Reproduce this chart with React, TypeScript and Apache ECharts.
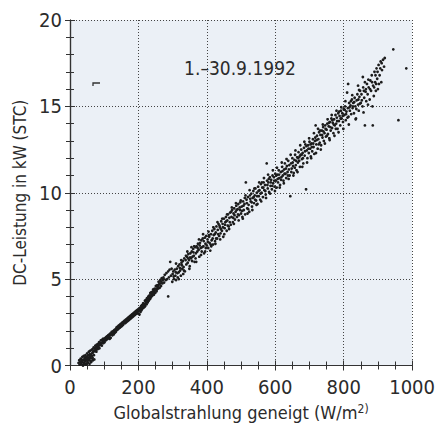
import React, { useEffect, useRef } from "react";
import * as echarts from "echarts";

const xTicks = [0, 200, 400, 600, 800, 1000];
const yTicks = [0, 5, 10, 15, 20];
const periodLabel = "1.–30.9.1992";
const xName = "Globalstrahlung geneigt (W/m";
const yName = "DC-Leistung in kW (STC)";

const pointsLow: number[][] = [
  [25,0.15],[27,0.3],[28,0.05],[30,0.2],[31,0.4],[32,0.1],[34,0.35],[35,0.2],[36,0.5],[37,0.05],[39,0.3],[40,0.55],[41,0.15],[43,0.45],[44,0.3],[45,0.6],[46,0.1],[48,0.5],[49,0.35],[50,0.7],[51,0.2],[53,0.6],[54,0.45],[55,0.8],[56,0.3],[58,0.65],[59,0.85],[60,0.5],[61,0.25],[63,0.9],[64,0.7],[65,0.4],[66,0.95],[68,0.8],[69,1.05],[70,0.6],[72,1.0],[73,0.85],[74,1.15],[76,1.05],[77,0.8],[78,1.2],[80,1.1],[81,0.95],[82,1.25],[84,1.15],[85,1.35],[86,1.0],[88,1.3],[89,1.2],[90,1.45],[92,1.3],[93,1.15],[94,1.5],[96,1.4],[97,1.55],[98,1.3],[100,1.5],[101,1.35],[103,1.6],[104,1.45],[106,1.65],[107,1.5],[109,1.7],[110,1.55],[112,1.75],[113,1.6],[115,1.8],[116,1.55],
  [38,0.0],[42,0.1],[47,0.05],[52,0.15],[57,0.1],[62,0.2],[67,0.3],[44,0.25],[50,0.3],[58,0.4],[66,0.45],[71,0.35]
];

const pointsMid: number[][] = [
  [118,1.85],[119,1.6],[121,1.8],[122,1.95],[124,1.75],[125,1.9],[127,2.0],[128,1.8],[130,2.05],[131,1.9],[133,2.1],[134,1.95],[136,2.2],[137,2.05],[139,2.25],[140,2.1],[142,2.3],[143,2.15],[145,2.35],[146,2.2],[148,2.4],[149,2.25],[151,2.45],[152,2.3],[154,2.5],[155,2.35],[157,2.55],[158,2.45],[160,2.6],[161,2.45],[163,2.65],[164,2.5],[166,2.7],[167,2.55],[169,2.75],[170,2.6],[172,2.8],[173,2.65],[175,2.85],[176,2.7],[178,2.9],[179,2.75],[181,2.95],[182,2.8],[184,3.0],[185,2.85],[187,3.05],[188,2.9],[190,3.1],[191,2.95],[193,3.15],[194,3.0],[196,3.2],[197,3.05],[199,3.25],[200,3.0],
  [202,3.3],[203,2.95],[205,3.35],[206,3.1],[208,3.45],[209,3.2],[211,3.5],[212,3.3],[214,3.6],[215,3.35],[217,3.55],[219,3.75],[220,3.45],[222,3.8],[224,3.55],[225,3.9],[227,3.65],[229,4.0],[230,3.75],[232,4.05],[234,3.85],[236,4.2],[237,3.95],[239,4.25],[241,4.05],[243,4.4],[245,4.1],[247,4.45],[249,4.2],[251,4.6],[253,4.3],[255,4.65],[257,4.45],[259,4.85],[262,4.5],[264,4.95],[266,4.6],[268,5.05],[270,4.75],[273,5.1],[275,4.8],[277,5.25],[280,4.95],[282,5.35],[284,5.0],[287,5.45],[289,5.1],[291,5.55],[293,6.0],[295,5.2],[297,5.6],[299,4.85],[300,5.3],[235,4.2],[244,4.3],[254,4.4],[287,4.0]
];

const pointsUpperMid: number[][] = [
  [302,5.45],[304,5.0],[306,5.55],[308,5.2],[310,4.95],[312,5.6],[314,5.35],[316,5.75],[318,5.4],[320,5.85],[322,5.5],[324,5.2],[326,5.95],[328,5.6],[330,6.05],[332,5.7],[334,6.2],[336,5.45],[338,6.1],[340,5.85],[342,6.3],[344,5.95],[346,6.45],[348,6.1],[350,5.75],[352,6.5],[354,6.2],[356,6.6],[358,6.3],[360,6.75],[362,6.35],[364,6.0],[366,6.85],[368,6.5],[370,6.9],[372,6.6],[374,7.05],[376,6.7],[378,6.3],[380,7.1],[382,6.8],[384,7.25],[386,6.85],[388,7.35],[390,6.9],[392,6.5],[394,7.4],[396,7.05],[398,7.5],[400,6.95],
  [402,7.3],[404,6.8],[406,7.55],[408,7.1],[410,6.65],[412,7.6],[414,7.25],[416,7.8],[418,7.0],[420,7.55],[422,7.9],[424,7.2],[426,7.7],[428,8.05],[430,7.35],[432,7.85],[434,8.2],[436,7.5],[438,8.0],[440,7.65],[442,8.35],[444,7.8],[446,8.2],[448,7.45],[450,8.5],[452,7.95],[454,8.3],[456,8.6],[458,7.8],[460,8.4],[462,8.75],[464,8.05],[466,8.55],[468,8.85],[470,8.15],[472,8.6],[474,9.0],[476,8.3],[478,8.8],[480,9.1],[482,8.45],[484,8.9],[486,9.25],[488,8.6],[490,9.05],[492,9.35],[494,8.7],[496,9.15],[498,9.45],[500,8.8]
];

const pointsHigh: number[][] = [
  [502,9.2],[504,8.6],[506,9.5],[508,9.0],[510,9.35],[512,8.75],[514,10.6],[516,9.6],[518,9.1],[520,9.75],[522,9.3],[524,8.9],[526,9.85],[528,9.5],[530,9.95],[532,9.2],[534,9.7],[536,10.1],[538,9.4],[540,9.85],[542,10.25],[544,9.55],[546,10.0],[548,9.35],[550,10.35],[552,9.8],[554,10.15],[556,9.6],[558,10.5],[560,10.0],[562,10.3],[564,9.75],[566,10.6],[568,10.15],[570,10.45],[572,9.9],[575,11.7],[576,10.7],[578,10.25],[580,10.6],[582,10.05],[584,10.9],[586,10.4],[588,10.75],[590,10.2],[592,11.0],[594,10.55],[596,10.9],[598,10.35],[600,11.1],
  [602,10.7],[604,10.3],[606,11.05],[608,10.6],[610,11.3],[612,10.85],[614,10.45],[616,11.2],[618,10.9],[620,11.5],[622,11.0],[624,10.7],[626,11.35],[628,11.7],[630,11.1],[632,10.85],[634,11.55],[636,11.2],[638,11.85],[640,11.35],[642,11.0],[644,9.8],[646,11.7],[648,11.4],[650,12.0],[652,11.55],[654,11.15],[656,11.9],[658,12.2],[660,11.6],[662,11.3],[664,12.05],[666,11.75],[668,12.35],[670,11.85],[672,11.5],[674,12.2],[676,12.5],[678,11.95],[680,12.3],[682,11.7],[684,12.6],[686,12.15],[688,12.8],[690,10.2],[692,12.45],[694,12.0],[696,12.75],[698,12.3],[700,12.95]
];

const pointsTop: number[][] = [
  [702,12.55],[704,12.1],[706,12.85],[708,12.4],[710,13.1],[712,12.65],[714,12.25],[716,13.0],[718,13.9],[720,12.8],[722,13.3],[724,12.55],[726,13.1],[728,13.5],[730,12.9],[732,13.35],[734,12.75],[736,13.6],[738,13.2],[740,13.8],[742,13.0],[744,13.45],[746,13.9],[748,13.25],[750,13.65],[752,14.0],[754,13.4],[756,13.85],[758,13.15],[760,14.1],[762,13.6],[764,14.3],[766,13.75],[768,14.05],[770,13.45],[772,14.25],[774,13.9],[776,14.5],[778,14.0],[780,14.35],[782,13.7],[784,14.6],[786,14.15],[788,14.45],[790,13.9],[792,14.75],[794,14.3],[796,14.6],[798,14.1],[800,14.85],
  [802,14.5],[804,15.0],[806,14.2],[808,14.7],[810,15.8],[812,14.9],[814,14.4],[816,15.2],[818,14.75],[820,15.05],[822,14.55],[824,15.4],[826,14.9],[828,15.2],[830,14.6],[832,15.5],[834,15.0],[836,14.3],[838,15.35],[840,15.7],[842,15.1],[844,14.75],[846,15.55],[848,15.9],[850,15.2],[852,15.7],[855,15.0],[857,16.1],[860,15.5],[862,13.9],[864,15.85],[866,15.3],[868,16.3],[870,15.7],[873,16.1],[876,15.4],[878,16.5],[880,15.9],[882,16.8],[885,13.9],[886,16.2],[888,15.6],[890,17.0],[892,16.4],[894,15.9],[896,17.2],[898,16.6],[900,16.0],[902,17.4],[905,16.8],[908,17.6],[910,16.4],[912,17.1],[915,17.7],[918,17.3],[920,17.8],[945,18.3],[960,14.2],[983,17.2],[813,16.3],[842,16.2],[862,16.4],[856,16.7]
];

const pointsExtraLow: number[][] = [
  [33,0.25],[36,0.3],[41,0.35],[45,0.4],[49,0.5],[53,0.4],[57,0.55],[61,0.6],[64,0.55],[67,0.75],[71,0.85],[75,0.9],[79,0.95],[83,1.05],[87,1.2],[91,1.3],[95,1.3],[99,1.4],[102,1.5],[105,1.55],[108,1.6],[111,1.7],[114,1.7],[117,1.75],[120,1.85],[123,1.85],[126,1.95],[129,2.0],[132,2.0],[135,2.1],[138,2.15],[141,2.2],[144,2.25],[147,2.3],[150,2.35],[153,2.4],[156,2.5],[159,2.5],[162,2.55],[165,2.6],[168,2.65],[171,2.7],[174,2.75],[177,2.8],[180,2.85],[183,2.9],[186,2.95],[189,3.0],[192,3.05],[195,3.1],[198,3.15],[201,3.2],[204,3.2],[207,3.3],[210,3.35],[213,3.45],[216,3.5],[218,3.4],[221,3.6],[223,3.7],[226,3.75],[228,3.8],[231,3.9],[233,3.95],[235,4.0],[238,4.1],[240,4.15],[242,4.2],[246,4.3],[248,4.35],[252,4.45],[256,4.55],[258,4.6],[261,4.7],[263,4.75],[267,4.85],[271,4.95],[274,5.0]
];

const pointsExtraHigh: number[][] = [
  [303,5.15],[309,5.4],[315,5.1],[321,5.65],[327,5.8],[333,5.5],[339,6.35],[345,6.2],[351,6.25],[357,6.05],[361,6.55],[367,6.2],[373,6.8],[379,6.95],[385,6.6],[391,7.2],[397,6.8],[403,7.15],[407,7.45],[411,7.0],[417,7.35],[423,7.6],[427,7.35],[433,7.6],[437,8.1],[441,7.9],[447,8.0],[453,8.15],[457,8.35],[461,8.1],[467,8.3],[471,8.9],[477,8.55],[481,8.7],[487,9.0],[491,8.75],[497,9.0],[503,8.95],[507,9.25],[511,9.7],[517,9.4],[521,9.05],[527,9.65],[531,9.45],[537,9.75],[541,9.6],[547,9.8],[551,10.1],[557,9.95],[561,10.6],[565,10.3],[571,10.1],[577,10.45],[581,10.8],[587,10.6],[591,10.4],[597,10.7],[603,11.0],[607,10.8],[611,11.05],[617,10.75],[621,11.25],[627,11.1],[631,11.4],[637,11.0],[641,11.6],[647,11.2],[651,11.75],[657,11.45],[661,11.85],[667,12.0],[671,12.1],[677,12.2],[681,12.0],[687,12.4],[691,12.7],[697,12.55],[703,12.8],[707,12.65],[711,12.85],[717,13.2],[721,13.05],[727,12.8],[731,13.6],[737,13.35],[741,13.55],[747,13.7],[751,13.3],[757,14.05],[761,13.8],[767,14.2],[771,13.95],[777,13.7],[781,14.15],[787,14.7],[791,14.3],[797,14.45],[803,14.8],[807,14.55],[811,14.35],[817,14.95],[821,15.3],[827,15.0],[831,15.25],[837,14.85],[843,15.4],[847,15.15],[853,15.35],[859,15.9],[865,16.0],[871,15.1],[877,16.0],[883,16.4],[889,16.1],[893,16.8],[899,17.0],[903,16.3],[907,17.2],[911,17.5]
];

const pointsScatter: number[][] = [
  [310,5.9],[318,5.0],[325,6.1],[331,5.3],[343,6.6],[349,5.6],[355,6.85],[363,6.9],[369,6.0],[377,7.3],[383,6.4],[389,7.6],[395,6.6],[405,7.75],[413,6.9],[419,8.0],[425,7.05],[431,8.3],[439,7.3],[445,8.5],[451,7.6],[459,8.75],[465,7.9],[473,9.15],[479,8.2],[485,9.4],[493,8.4],[499,9.55],[505,8.5],[513,9.85],[519,8.8],[525,10.15],[533,9.0],[539,10.25],[545,9.3],[553,10.6],[559,9.5],[567,10.85],[573,9.7],[579,11.05],[585,9.95],[593,11.3],[599,10.1],[605,11.45],[613,10.3],[619,11.75],[625,10.55],[633,11.95],[639,10.8],[645,12.2],[653,11.0],[659,12.45],[665,11.2],[673,12.75],[679,11.5],[685,12.95],[693,11.75],[699,13.15],[705,12.0],[713,13.45],[719,12.3],[725,13.7],[733,12.5],[739,13.95],[745,12.85],[753,14.25],[759,13.05],[765,14.5],[773,13.3],[779,14.75],[785,13.5],[793,14.95],[799,13.7],[805,15.3],[815,13.95],[825,15.65],[835,14.25],[845,15.95],[858,14.65],[872,16.55],[884,15.0],[895,16.3]
];

const FONT = "'DejaVu Sans Condensed', 'DejaVu Sans', sans-serif";
const TEXT = "#2b2b2b";

export default function App() {
  const ref = useRef<HTMLDivElement>(null);
  useEffect(() => {
    if (!ref.current) return;
    const chart = echarts.init(ref.current, undefined, { renderer: "svg" });
    const allPoints = [
      ...pointsLow, ...pointsMid, ...pointsUpperMid, ...pointsHigh, ...pointsTop,
      ...pointsExtraLow, ...pointsExtraHigh, ...pointsScatter,
    ];
    const tickCommon = {
      axisLine: { show: true, lineStyle: { color: "#333", width: 1.2 } },
      axisTick: { show: true, inside: true, length: 5, lineStyle: { color: "#333" } },
    };
    chart.setOption({
      animation: false,
      backgroundColor: "#ffffff",
      grid: {
        left: 70, top: 20, width: 348, height: 348,
        show: true, backgroundColor: "#ebf0f6", borderWidth: 0,
      },
      xAxis: [
        {
          type: "value", min: 0, max: 1000, interval: 200,
          ...tickCommon,
          minorTick: { show: true, splitNumber: 4, length: 4, lineStyle: { color: "#333" } },
          axisLabel: { fontFamily: FONT, fontSize: 20, color: TEXT, margin: 11,
            formatter: (v: number) => (xTicks.includes(v) ? String(v) : "") },
          splitLine: { show: true, lineStyle: { color: "#444", type: [1, 2], width: 1 } },
          name: xName + "{sup|2)}",
          nameLocation: "middle", nameGap: 37,
          nameTextStyle: { fontFamily: FONT, fontSize: 18, color: TEXT,
            rich: { sup: { fontFamily: FONT, fontSize: 12, color: TEXT, verticalAlign: "top", padding: [0, 0, 7, 0] } } },
        },
        {
          type: "value", min: 0, max: 1000, interval: 200, position: "top",
          ...tickCommon,
          minorTick: { show: true, splitNumber: 4, length: 4, lineStyle: { color: "#333" } },
          axisLabel: { show: false }, splitLine: { show: false },
        },
      ],
      yAxis: [
        {
          type: "value", min: 0, max: 20, interval: 5,
          ...tickCommon,
          minorTick: { show: true, splitNumber: 5, length: 4, lineStyle: { color: "#333" } },
          axisLabel: { fontFamily: FONT, fontSize: 20, color: TEXT, margin: 8,
            formatter: (v: number) => (yTicks.includes(v) ? String(v) : "") },
          splitLine: { show: true, lineStyle: { color: "#444", type: [1, 2], width: 1 } },
          name: yName, nameLocation: "middle", nameGap: 38,
          nameTextStyle: { fontFamily: FONT, fontSize: 17, color: TEXT },
        },
        {
          type: "value", min: 0, max: 20, interval: 5, position: "right",
          ...tickCommon,
          minorTick: { show: true, splitNumber: 5, length: 4, lineStyle: { color: "#333" } },
          axisLabel: { show: false }, splitLine: { show: false },
        },
      ],
      graphic: [
        { type: "text", x: 240, y: 68, style: { text: periodLabel, fontFamily: FONT, fontSize: 19,
          fill: TEXT, textAlign: "center", textVerticalAlign: "middle" } },
        { type: "polyline", shape: { points: [[93, 86], [93, 83], [100, 83]] },
          style: { stroke: "#333", lineWidth: 1.3, fill: "none" } },
      ],
      series: [
        {
          type: "scatter", xAxisIndex: 0, yAxisIndex: 0,
          data: allPoints, symbol: "circle", symbolSize: 2.8,
          itemStyle: { color: "#1c1c1c", opacity: 1 },
        },
      ],
    });
    return () => chart.dispose();
  }, []);
  return <div ref={ref} style={{ position: "fixed", left: 0, top: 0, width: 438, height: 426 }} />;
}
